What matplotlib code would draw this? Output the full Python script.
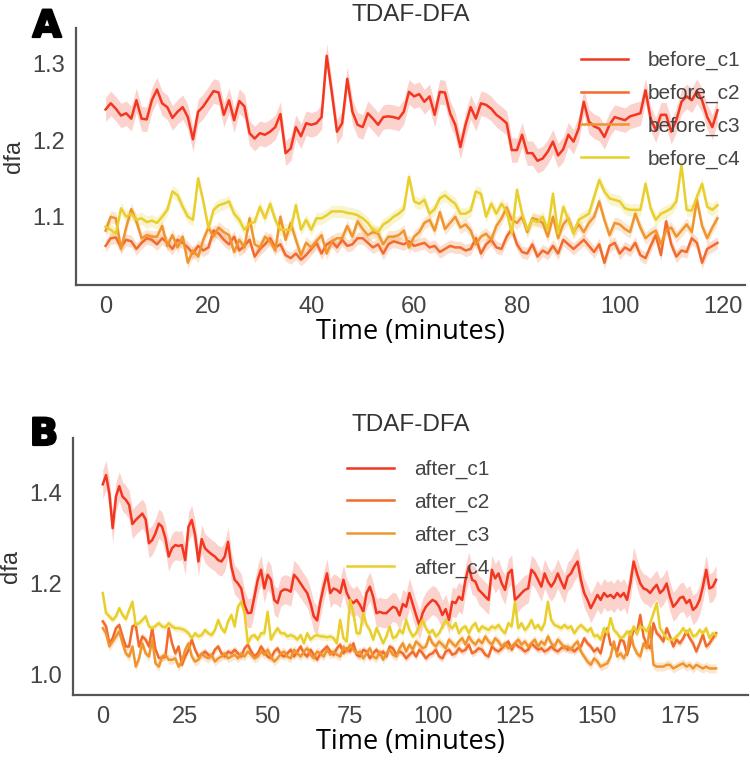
import numpy as np
import matplotlib
matplotlib.use("Agg")
import matplotlib.pyplot as plt
import matplotlib.patheffects as pe

# ---- panel A: before (one value per minute) ----
before_c1 = [
    1.240, 1.248, 1.241, 1.232, 1.235, 1.228, 1.252, 1.228, 1.227, 1.252,
    1.266, 1.248, 1.243, 1.229, 1.237, 1.243, 1.230, 1.201, 1.237, 1.244,
    1.254, 1.264, 1.262, 1.233, 1.252, 1.226, 1.251, 1.244, 1.209, 1.202,
    1.209, 1.207, 1.211, 1.217, 1.234, 1.183, 1.189, 1.217, 1.205, 1.222,
    1.220, 1.222, 1.230, 1.310, 1.262, 1.211, 1.222, 1.280, 1.237, 1.220,
    1.217, 1.235, 1.228, 1.220, 1.230, 1.231, 1.230, 1.228, 1.237, 1.263,
    1.257, 1.260, 1.250, 1.257, 1.233, 1.263, 1.262, 1.235, 1.220, 1.191,
    1.220, 1.243, 1.228, 1.248, 1.246, 1.241, 1.233, 1.228, 1.222, 1.187,
    1.187, 1.207, 1.183, 1.183, 1.173, 1.176, 1.185, 1.198, 1.180, 1.188,
    1.207, 1.198, 1.215, 1.250, 1.224, 1.218, 1.215, 1.204, 1.220, 1.230,
    1.228, 1.226, 1.231, 1.233, 1.235, 1.265, 1.228, 1.213, 1.233, 1.233,
    1.211, 1.226, 1.250, 1.257, 1.252, 1.264, 1.252, 1.230, 1.217, 1.239,
]
before_c2 = [
    1.062, 1.072, 1.073, 1.060, 1.070, 1.068, 1.058, 1.066, 1.072, 1.070,
    1.064, 1.072, 1.066, 1.058, 1.070, 1.066, 1.060, 1.052, 1.062, 1.056,
    1.060, 1.082, 1.078, 1.070, 1.064, 1.074, 1.056, 1.062, 1.070, 1.048,
    1.058, 1.064, 1.072, 1.060, 1.064, 1.050, 1.046, 1.052, 1.044, 1.050,
    1.058, 1.066, 1.052, 1.064, 1.068, 1.060, 1.070, 1.062, 1.064, 1.072,
    1.072, 1.066, 1.060, 1.064, 1.052, 1.064, 1.068, 1.066, 1.064, 1.068,
    1.062, 1.064, 1.066, 1.060, 1.062, 1.054, 1.058, 1.062, 1.060, 1.060,
    1.056, 1.058, 1.072, 1.052, 1.064, 1.070, 1.060, 1.058, 1.074, 1.084,
    1.064, 1.054, 1.052, 1.064, 1.048, 1.056, 1.052, 1.062, 1.052, 1.070,
    1.064, 1.058, 1.064, 1.070, 1.062, 1.054, 1.064, 1.040, 1.062, 1.066,
    1.052, 1.060, 1.056, 1.066, 1.050, 1.046, 1.062, 1.076, 1.050, 1.094,
    1.064, 1.048, 1.056, 1.054, 1.072, 1.066, 1.040, 1.058, 1.062, 1.066,
]
before_c3 = [
    1.082, 1.100, 1.098, 1.058, 1.086, 1.110, 1.094, 1.072, 1.076, 1.074,
    1.074, 1.088, 1.062, 1.076, 1.060, 1.074, 1.040, 1.056, 1.048, 1.070,
    1.086, 1.074, 1.086, 1.080, 1.076, 1.054, 1.070, 1.060, 1.098, 1.064,
    1.060, 1.074, 1.068, 1.056, 1.100, 1.070, 1.092, 1.070, 1.050, 1.066,
    1.060, 1.068, 1.076, 1.052, 1.068, 1.072, 1.072, 1.088, 1.074, 1.094,
    1.084, 1.076, 1.080, 1.078, 1.064, 1.074, 1.074, 1.076, 1.082, 1.060,
    1.074, 1.080, 1.092, 1.096, 1.082, 1.106, 1.084, 1.092, 1.100, 1.086,
    1.090, 1.082, 1.064, 1.074, 1.078, 1.070, 1.088, 1.098, 1.112, 1.096,
    1.092, 1.100, 1.080, 1.098, 1.096, 1.092, 1.074, 1.100, 1.072, 1.090,
    1.098, 1.080, 1.090, 1.080, 1.092, 1.100, 1.120, 1.096, 1.076, 1.092,
    1.090, 1.084, 1.080, 1.104, 1.086, 1.072, 1.078, 1.082, 1.064, 1.082,
    1.086, 1.074, 1.082, 1.090, 1.080, 1.122, 1.088, 1.072, 1.086, 1.098,
]
before_c4 = [
    1.087, 1.083, 1.078, 1.111, 1.100, 1.104, 1.096, 1.098, 1.093, 1.095,
    1.092, 1.100, 1.109, 1.133, 1.128, 1.113, 1.100, 1.096, 1.150, 1.120,
    1.085, 1.109, 1.115, 1.117, 1.120, 1.104, 1.096, 1.083, 1.091, 1.093,
    1.113, 1.098, 1.117, 1.096, 1.083, 1.083, 1.083, 1.115, 1.083, 1.096,
    1.083, 1.098, 1.098, 1.102, 1.107, 1.107, 1.107, 1.105, 1.104, 1.102,
    1.098, 1.092, 1.083, 1.080, 1.090, 1.094, 1.100, 1.104, 1.110, 1.152,
    1.120, 1.117, 1.122, 1.104, 1.110, 1.124, 1.128, 1.122, 1.117, 1.104,
    1.104, 1.108, 1.133, 1.130, 1.100, 1.117, 1.104, 1.117, 1.107, 1.078,
    1.135, 1.104, 1.083, 1.096, 1.093, 1.100, 1.083, 1.130, 1.078, 1.113,
    1.096, 1.078, 1.096, 1.100, 1.104, 1.126, 1.148, 1.133, 1.124, 1.122,
    1.120, 1.111, 1.109, 1.109, 1.109, 1.143, 1.111, 1.096, 1.104, 1.107,
    1.111, 1.120, 1.167, 1.109, 1.108, 1.126, 1.143, 1.113, 1.109, 1.115,
]

# ---- panel B: after ----
after_c1 = [
    1.417, 1.437, 1.397, 1.321, 1.390, 1.413, 1.390, 1.383, 1.372, 1.330,
    1.339, 1.346, 1.353, 1.340, 1.288, 1.295, 1.310, 1.331, 1.324, 1.299,
    1.259, 1.277, 1.284, 1.282, 1.284, 1.251, 1.324, 1.339, 1.306, 1.248,
    1.297, 1.277, 1.270, 1.264, 1.259, 1.251, 1.248, 1.259, 1.291, 1.237,
    1.208, 1.200, 1.189, 1.153, 1.135, 1.136, 1.171, 1.208, 1.230, 1.189,
    1.219, 1.208, 1.164, 1.157, 1.182, 1.187, 1.186, 1.182, 1.219, 1.211,
    1.200, 1.189, 1.179, 1.157, 1.128, 1.119, 1.160, 1.193, 1.222, 1.179,
    1.189, 1.186, 1.179, 1.208, 1.179, 1.164, 1.157, 1.164, 1.153, 1.138,
    1.179, 1.193, 1.171, 1.135, 1.138, 1.135, 1.135, 1.142, 1.149, 1.146,
    1.130, 1.155, 1.149, 1.179, 1.155, 1.131, 1.109, 1.135, 1.149, 1.157,
    1.164, 1.160, 1.149, 1.131, 1.144, 1.120, 1.160, 1.157, 1.171, 1.164,
    1.208, 1.237, 1.208, 1.204, 1.186, 1.179, 1.171, 1.164, 1.230, 1.211,
    1.222, 1.200, 1.186, 1.222, 1.230, 1.164, 1.171, 1.179, 1.186, 1.189,
    1.230, 1.222, 1.208, 1.193, 1.222, 1.204, 1.193, 1.204, 1.222, 1.204,
    1.189, 1.215, 1.222, 1.237, 1.248, 1.208, 1.179, 1.164, 1.146, 1.160,
    1.175, 1.164, 1.179, 1.171, 1.175, 1.168, 1.179, 1.171, 1.179, 1.164,
    1.200, 1.248, 1.222, 1.200, 1.189, 1.186, 1.179, 1.189, 1.197, 1.179,
    1.186, 1.200, 1.171, 1.149, 1.157, 1.168, 1.171, 1.157, 1.164, 1.142,
    1.149, 1.164, 1.193, 1.230, 1.189, 1.193, 1.208,
]
after_c2 = [
    1.117, 1.106, 1.069, 1.080, 1.102, 1.109, 1.084, 1.062, 1.062, 1.106,
    1.109, 1.062, 1.084, 1.077, 1.062, 1.102, 1.055, 1.037, 1.037, 1.040,
    1.102, 1.069, 1.047, 1.062, 1.022, 1.040, 1.055, 1.077, 1.055, 1.040,
    1.044, 1.051, 1.044, 1.040, 1.055, 1.062, 1.047, 1.040, 1.051, 1.047,
    1.055, 1.047, 1.040, 1.058, 1.066, 1.051, 1.040, 1.047, 1.062, 1.051,
    1.040, 1.036, 1.051, 1.058, 1.044, 1.040, 1.047, 1.055, 1.040, 1.051,
    1.062, 1.047, 1.040, 1.055, 1.044, 1.033, 1.047, 1.055, 1.062, 1.051,
    1.044, 1.058, 1.066, 1.047, 1.058, 1.051, 1.069, 1.044, 1.040, 1.055,
    1.051, 1.036, 1.047, 1.055, 1.044, 1.051, 1.040, 1.062, 1.058, 1.044,
    1.051, 1.047, 1.036, 1.044, 1.051, 1.040, 1.055, 1.047, 1.036, 1.044,
    1.047, 1.055, 1.040, 1.036, 1.051, 1.055, 1.044, 1.047, 1.058, 1.051,
    1.055, 1.066, 1.047, 1.051, 1.058, 1.055, 1.044, 1.040, 1.062, 1.055,
    1.051, 1.058, 1.066, 1.073, 1.055, 1.069, 1.062, 1.058, 1.051, 1.055,
    1.069, 1.062, 1.055, 1.058, 1.051, 1.055, 1.062, 1.055, 1.051, 1.058,
    1.062, 1.055, 1.058, 1.051, 1.058, 1.062, 1.080, 1.069, 1.062, 1.051,
    1.058, 1.047, 1.080, 1.102, 1.066, 1.062, 1.051, 1.077, 1.073, 1.044,
    1.069, 1.102, 1.091, 1.131, 1.084, 1.066, 1.058, 1.113, 1.091, 1.084,
    1.073, 1.102, 1.084, 1.062, 1.077, 1.069, 1.080, 1.095, 1.080, 1.069,
    1.051, 1.069, 1.088, 1.062, 1.069, 1.080, 1.091,
]
after_c3 = [
    1.102, 1.091, 1.062, 1.073, 1.084, 1.095, 1.069, 1.047, 1.040, 1.062,
    1.018, 1.036, 1.069, 1.047, 1.040, 1.077, 1.025, 1.018, 1.040, 1.044,
    1.033, 1.033, 1.036, 1.018, 1.029, 1.055, 1.069, 1.040, 1.029, 1.033,
    1.047, 1.040, 1.036, 1.044, 1.029, 1.036, 1.040, 1.047, 1.036, 1.040,
    1.044, 1.036, 1.047, 1.040, 1.051, 1.044, 1.036, 1.040, 1.051, 1.044,
    1.055, 1.040, 1.029, 1.036, 1.047, 1.051, 1.040, 1.036, 1.055, 1.047,
    1.040, 1.051, 1.058, 1.044, 1.036, 1.051, 1.047, 1.040, 1.055, 1.044,
    1.051, 1.044, 1.040, 1.062, 1.051, 1.066, 1.055, 1.047, 1.051, 1.036,
    1.047, 1.058, 1.040, 1.036, 1.051, 1.033, 1.047, 1.055, 1.044, 1.040,
    1.058, 1.069, 1.051, 1.066, 1.055, 1.073, 1.066, 1.058, 1.062, 1.084,
    1.069, 1.062, 1.073, 1.066, 1.058, 1.077, 1.069, 1.062, 1.073, 1.080,
    1.066, 1.084, 1.073, 1.066, 1.077, 1.069, 1.084, 1.073, 1.066, 1.080,
    1.073, 1.062, 1.069, 1.058, 1.062, 1.069, 1.077, 1.066, 1.073, 1.062,
    1.069, 1.077, 1.062, 1.073, 1.066, 1.084, 1.069, 1.062, 1.077, 1.069,
    1.058, 1.062, 1.055, 1.066, 1.073, 1.051, 1.040, 1.029, 1.022, 1.036,
    1.029, 1.018, 1.022, 1.025, 1.040, 1.073, 1.040, 1.047, 1.036, 1.051,
    1.095, 1.062, 1.047, 1.040, 1.069, 1.058, 1.106, 1.022, 1.018, 1.018,
    1.018, 1.022, 1.022, 1.014, 1.018, 1.022, 1.025, 1.018, 1.022, 1.014,
    1.022, 1.018, 1.014, 1.018, 1.014, 1.014, 1.014,
]
after_c4 = [
    1.179, 1.135, 1.128, 1.120, 1.128, 1.146, 1.131, 1.122, 1.142, 1.160,
    1.109, 1.113, 1.120, 1.128, 1.106, 1.102, 1.107, 1.113, 1.106, 1.104,
    1.113, 1.106, 1.102, 1.102, 1.100, 1.097, 1.091, 1.080, 1.091, 1.084,
    1.087, 1.098, 1.091, 1.087, 1.098, 1.120, 1.102, 1.093, 1.117, 1.131,
    1.106, 1.149, 1.160, 1.135, 1.069, 1.084, 1.087, 1.077, 1.091, 1.091,
    1.138, 1.077, 1.091, 1.102, 1.091, 1.091, 1.084, 1.087, 1.084, 1.077,
    1.087, 1.069, 1.091, 1.077, 1.084, 1.087, 1.084, 1.084, 1.082, 1.084,
    1.080, 1.069, 1.120, 1.080, 1.073, 1.164, 1.135, 1.091, 1.091, 1.135,
    1.109, 1.098, 1.077, 1.102, 1.087, 1.069, 1.084, 1.106, 1.080, 1.084,
    1.098, 1.091, 1.120, 1.098, 1.084, 1.091, 1.106, 1.120, 1.102, 1.091,
    1.098, 1.084, 1.091, 1.106, 1.120, 1.109, 1.102, 1.113, 1.091, 1.102,
    1.106, 1.091, 1.106, 1.113, 1.095, 1.106, 1.102, 1.098, 1.106, 1.102,
    1.109, 1.098, 1.091, 1.113, 1.106, 1.160, 1.102, 1.113, 1.098, 1.106,
    1.120, 1.102, 1.109, 1.098, 1.113, 1.160, 1.120, 1.109, 1.106, 1.102,
    1.109, 1.102, 1.106, 1.091, 1.102, 1.109, 1.102, 1.095, 1.102, 1.084,
    1.087, 1.077, 1.102, 1.091, 1.124, 1.098, 1.091, 1.080, 1.084, 1.095,
    1.087, 1.106, 1.091, 1.106, 1.102, 1.095, 1.113, 1.135, 1.157, 1.102,
    1.091, 1.080, 1.077, 1.077, 1.084, 1.091, 1.102, 1.091, 1.100, 1.084,
    1.087, 1.098, 1.091, 1.102, 1.080, 1.091, 1.087,
]

# rough half-width of the shaded confidence band per series
band_before = [0.016, 0.008, 0.008, 0.008]
band_after = [0.032, 0.008, 0.010, 0.008]

colors = ["#f3361f", "#f26b2c", "#f0952e", "#e8cf2c"]

SANS = "Liberation Sans"
plt.rcParams["font.family"] = [SANS, "DejaVu Sans"]

fig = plt.figure(figsize=(7.5, 7.62), dpi=100)
ax_a = fig.add_axes([0.101, 0.626, 0.892, 0.337])
ax_b = fig.add_axes([0.097, 0.088, 0.900, 0.337])


def panel(ax, series, labels, bands, xlim, ylim, xticks, yticks, leg_xy):
    for y, lab, col, b in zip(series, labels, colors, bands):
        y = np.asarray(y)
        t = np.arange(len(y))
        ax.fill_between(t, y - b, y + b, color=col, alpha=0.22, lw=0)
        ax.plot(t, y, color=col, lw=1.8, label=lab)
    ax.set_xlim(*xlim)
    ax.set_ylim(*ylim)
    ax.set_xticks(xticks)
    ax.set_yticks(yticks)
    ax.tick_params(length=0, labelsize=17, labelcolor="#444444", pad=8)
    for s in ["top", "right"]:
        ax.spines[s].set_visible(False)
    for s in ["left", "bottom"]:
        ax.spines[s].set_color("#555555")
        ax.spines[s].set_linewidth(1.6)
    ax.set_title("TDAF-DFA", fontsize=17.5, color="#333333", pad=5)
    ax.set_ylabel("dfa", fontsize=17, color="#333333", labelpad=5)
    ax.set_xlabel("Time (minutes)", fontsize=19.5, family=["Open Sans", "DejaVu Sans"],
                  labelpad=0)
    ax.legend(loc="upper left", bbox_to_anchor=leg_xy, frameon=False, fontsize=15,
              handlelength=2.26, handletextpad=0.96, labelspacing=0.65,
              borderpad=0, borderaxespad=0, labelcolor="#444444")


panel(ax_a, [before_c1, before_c2, before_c3, before_c4],
      ["before_c1", "before_c2", "before_c3", "before_c4"], band_before,
      (-5.8, 124.3), (1.011, 1.346), [0, 20, 40, 60, 80, 100, 120], [1.1, 1.2, 1.3],
      (0.755, 0.911))
panel(ax_b, [after_c1, after_c2, after_c3, after_c4],
      ["after_c1", "after_c2", "after_c3", "after_c4"], band_after,
      (-9.1, 195.6), (0.956, 1.518), [0, 25, 50, 75, 100, 125, 150, 175], [1.0, 1.2, 1.4],
      (0.406, 0.915))

heavy = [pe.withStroke(linewidth=1.6, foreground="black")]
fig.text(47 / 750, 1 - 37 / 762, "A", fontsize=27, fontweight="bold", va="baseline",
         ha="center", family="DejaVu Sans", path_effects=heavy)
fig.text(44 / 750, 1 - 445 / 762, "B", fontsize=27, fontweight="bold", va="baseline",
         ha="center", family="DejaVu Sans", path_effects=heavy)

fig.savefig("out.png", dpi=100)
